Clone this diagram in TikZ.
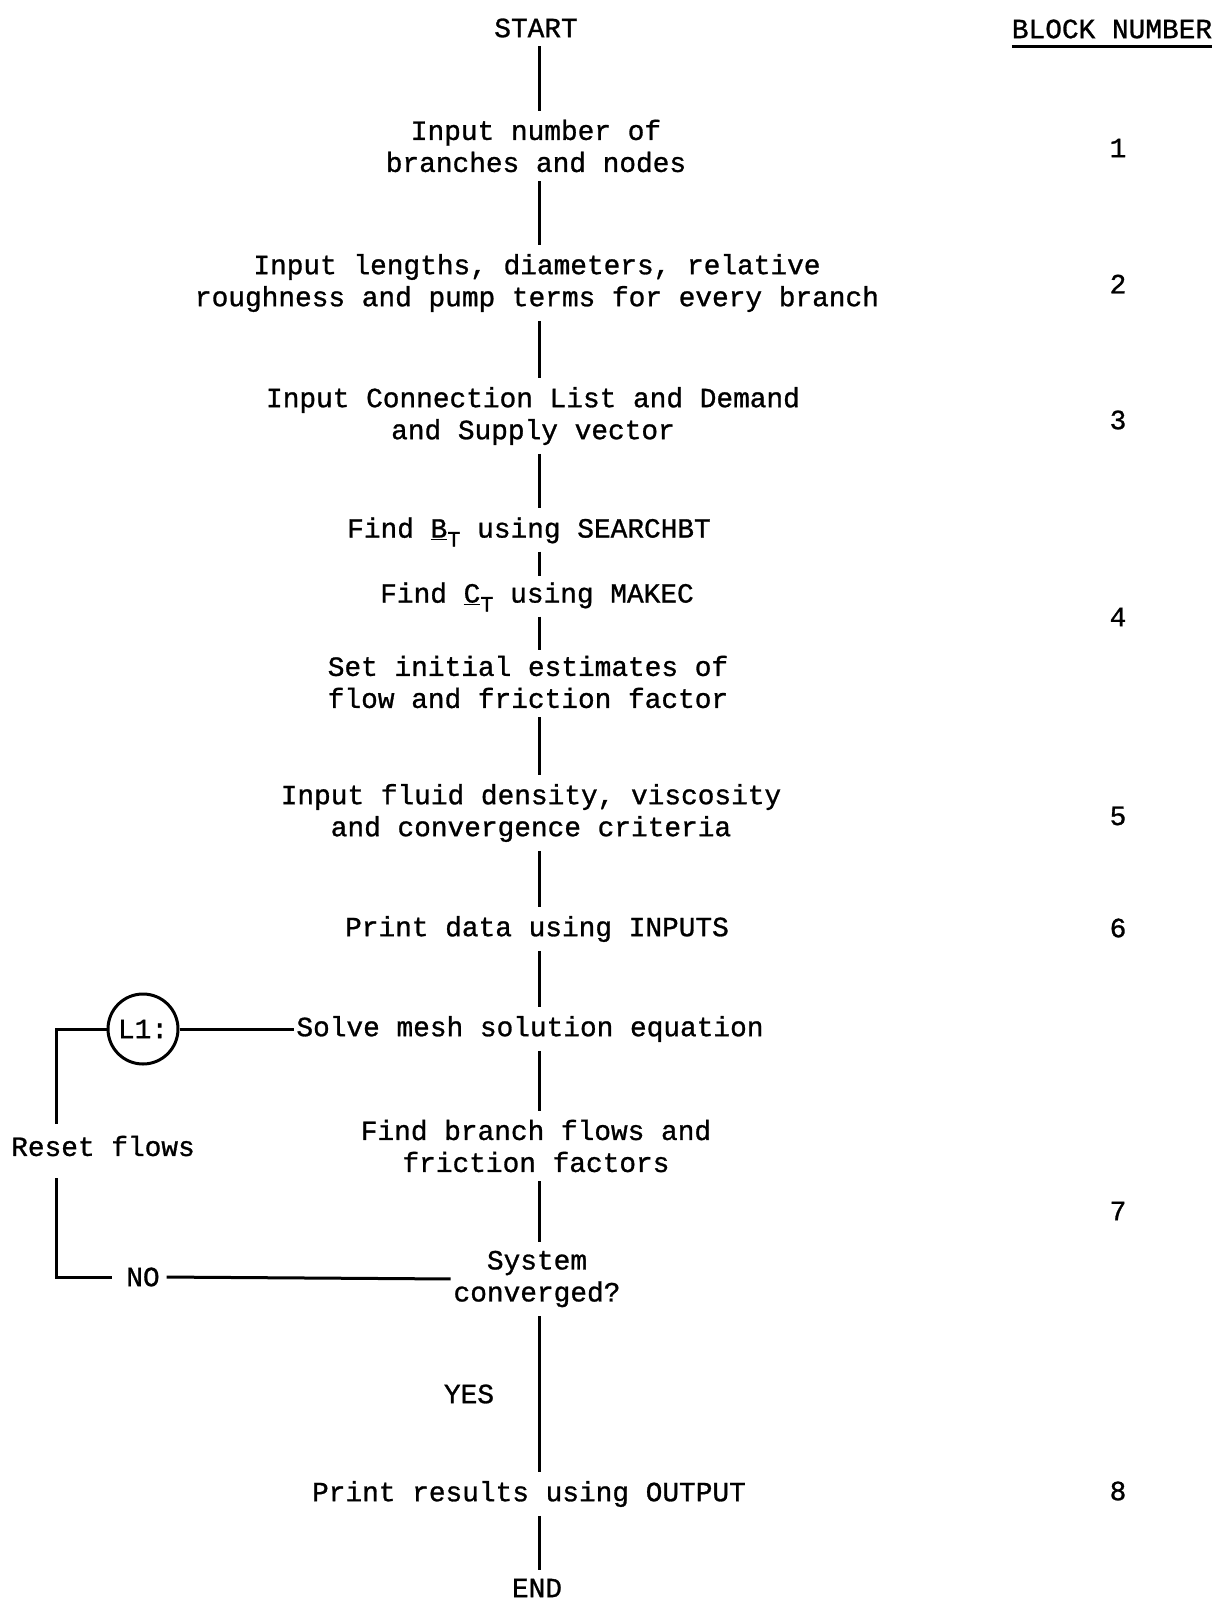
\documentclass[tikz,border=0pt]{standalone}
\usepackage{fontspec}
\newfontfamily\twfont[FakeBold=1]{Liberation Mono}
\newcommand\tw{\twfont\fontsize{27.8}{32}\selectfont}
\newcommand\subT{\raisebox{-9pt}{\fontsize{22}{22}\selectfont T}}
\begin{document}
\begin{tikzpicture}[x=1pt,y=-1pt,
  txt/.style={inner sep=0pt, outer sep=0pt, align=center, font=\tw},
  link/.style={line width=3pt, shorten <=9pt, shorten >=9pt},
  shortlink/.style={line width=3pt, shorten <=5pt, shorten >=6pt},
  wire/.style={line width=3pt},
  ring/.style={draw, circle, line width=3pt, minimum size=70pt, inner sep=0pt, font=\tw}]
\useasboundingbox (0,0) rectangle (1216,1605);
\coordinate (axis) at (539,0);
\coordinate (leftx) at (56,0);

% main column
\node[txt] (start)   at (536,28)   {START};
\node[txt] (b1)      at (536,146)  {Input number of\\branches and nodes};
\node[txt] (b2)      at (537,283)  {Input lengths, diameters, relative\\roughness and pump terms for every branch};
\node[txt] (b3)      at (533,416)  {Input Connection List and Demand\\and Supply vector};
\node[txt] (findB)   at (529,532)  {Find \underline{B}\subT{} using SEARCHBT};
\node[txt] (findC)   at (537,597)  {Find \underline{C}\subT{} using MAKEC};
\node[txt] (setinit) at (528,682)  {Set initial estimates of\\flow and friction factor};
\node[txt] (b5)      at (531,813)  {Input fluid density, viscosity\\and convergence criteria};
\node[txt] (print)   at (537,929)  {Print data using INPUTS};
\node[txt] (solve)   at (530,1029) {Solve mesh solution equation};
\node[txt] (findbr)  at (536,1146) {Find branch flows and\\friction factors};
\node[txt] (sys)     at (537,1279) {System\\converged?};
\node[txt] (yes)     at (469,1394) {YES};
\node[txt] (printres) at (529,1494) {Print results using OUTPUT};
\node[txt] (end)     at (537,1588) {END};

% loop
\node[ring] (L1) at (143,1029) {L1:};
\node[txt] (reset) at (103,1146) {Reset flows};
\node[txt] (no) at (143,1277) {NO};

% block numbers
\node[txt] (bn) at (1112,29) {BLOCK NUMBER};
\draw[line width=3.5pt] ([yshift=-8pt]bn.south west) -- ([yshift=-8pt]bn.south east);
\node[txt] (n1) at (1118,148) {1};
\node[txt] (n2) at (1118,284) {2};
\node[txt] (n3) at (1118,420) {3};
\node[txt] (n4) at (1118,617) {4};
\node[txt] (n5) at (1118,816) {5};
\node[txt] (n6) at (1118,928) {6};
\node[txt] (n7) at (1118,1211) {7};
\node[txt] (n8) at (1118,1491) {8};

% connectors
\draw[link] (start.south -| axis) -- (b1.north -| axis);
\draw[link] (b1.south -| axis) -- (b2.north -| axis);
\draw[link] (b2.south -| axis) -- (b3.north -| axis);
\draw[link] (b3.south -| axis) -- (findB.north -| axis);
\draw[shortlink] (findB.south -| axis) -- (findC.north -| axis);
\draw[shortlink] (findC.south -| axis) -- (setinit.north -| axis);
\draw[link] (setinit.south -| axis) -- (b5.north -| axis);
\draw[link] (b5.south -| axis) -- (print.north -| axis);
\draw[link] (print.south -| axis) -- (solve.north -| axis);
\draw[link] (solve.south -| axis) -- (findbr.north -| axis);
\draw[link] (findbr.south -| axis) -- (sys.north -| axis);
\draw[link] (sys.south -| axis) -- (printres.north -| axis);
\draw[link] (printres.south -| axis) -- (end.north -| axis);

\draw[wire, shorten >=2pt] (L1.east) -- (solve.west);
\draw[wire, shorten >=12pt] (L1.west) -| (reset.north -| leftx);
\draw[wire, shorten <=22pt, shorten >=14pt] (reset.south -| leftx) |- (no.west);
\draw[wire, shorten <=7pt, shorten >=3pt] (no.east) -- (sys.west);
\end{tikzpicture}
\end{document}
